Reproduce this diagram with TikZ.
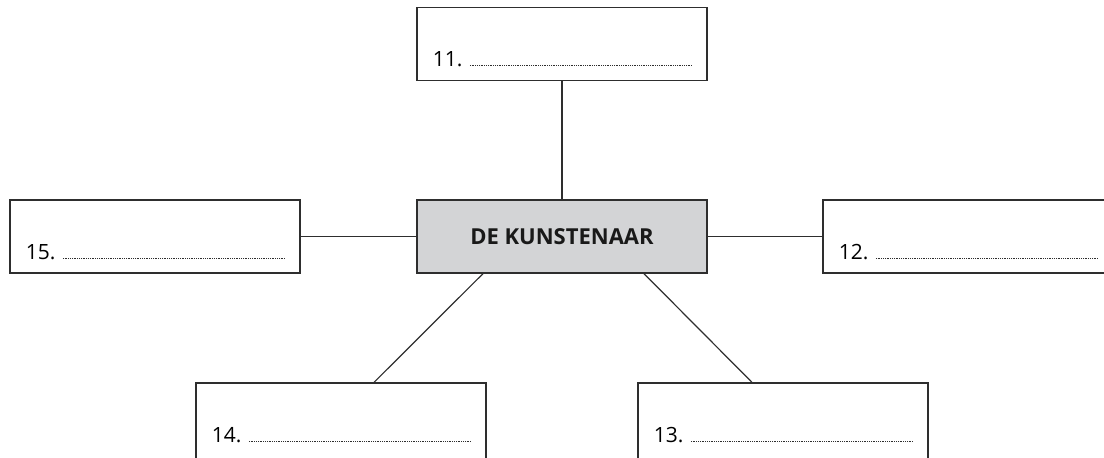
\documentclass[tikz,border=0pt]{standalone}
\usepackage{fontspec}
\setmainfont{Open Sans}
\usetikzlibrary{calc}
\definecolor{KunstGray}{HTML}{D3D4D6}
\definecolor{LineGray}{HTML}{2E2E2E}

\begin{document}
\begin{tikzpicture}[
    x=0.5pt,y=-0.5pt,
    box/.style={draw=LineGray,line width=0.65pt,minimum width=145pt,minimum height=36.5pt,inner sep=0pt},
    lowbox/.style={box,minimum height=40pt},
    centerbox/.style={box,fill=KunstGray,text=black!90,font=\bfseries\fontsize{11}{13}\selectfont},
    num/.style={anchor=base west,inner sep=0pt,text=black,font=\fontsize{10.5}{12}\selectfont},
    dotline/.style={draw=LineGray,line width=0.45pt,dash pattern=on 0.35pt off 0.55pt},
    link/.style={draw=LineGray,line width=0.6pt}
  ]
    \clip (0,0) rectangle (1104,457);
    \node[centerbox] (kunst) at (562,236.5) {DE KUNSTENAAR};
    \node[box] (b11) at (562,44) {};
    \node[box] (b15) at (155,236.5) {};
    \node[box] (b12) at (968,236.5) {};
    \node[lowbox] (b14) at (341,423) {};
    \node[lowbox] (b13) at (783,423) {};
    \foreach \b/\t in {b11/11.,b12/12.,b13/13.,b14/14.,b15/15.}{
      \node[num] (n\b) at ($(\b.north west)+(16,60)$) {\t};
      \draw[dotline] ($(n\b.base east)+(7,-1)$) -- ($(\b.north east)+(-15,59)$);
    }
    \draw[link] (b11) -- (kunst);
    \draw[link] (kunst) -- (b15);
    \draw[link] (kunst) -- (b12);
    \draw[link] ($(kunst.south)+(-79,0)$) -- ($(b14.north)+(33,0)$);
    \draw[link] ($(kunst.south)+(82,0)$) -- ($(b13.north)+(-31,0)$);
  \end{tikzpicture}
\end{document}
